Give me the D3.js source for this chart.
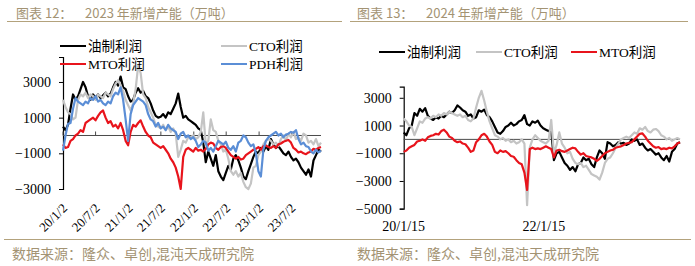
<!DOCTYPE html>
<html>
<head>
<meta charset="utf-8">
<script src="https://cdn.jsdelivr.net/npm/d3@7"></script>
<style>
  body { margin: 0; background: #fff; }
  svg { display: block; }
</style>
</head>
<body>
<svg id="chart"></svg>
<script>
// series names / categories
const seriesNames = ["油制利润", "CTO利润", "MTO利润", "PDH利润"];
const stepDays = 14;               // one value every two weeks
const start2023 = "2020-01-02";
const start2024 = "2020-01-15";
const xTicks2023 = ["2020-01-02", "2020-07-02", "2021-01-02", "2021-07-02",
                    "2022-01-02", "2022-07-02", "2023-01-02", "2023-07-02"];
const xTicks2024 = ["2020-01-15", "2022-01-15"];
const yTicks2023 = [3000, 1000, -1000, -3000];
const yTicks2024 = [3000, 1000, -1000, -3000, -5000];

// 2023 new capacity (万吨)
const oil2023 = [500, 300, 600, 1500, 2300, 2000, 2200, 2600, 3000, 2700, 2200, 2000, 2300,
  2100, 2300, 2100, 2250, 2400, 2200, 2350, 2700, 3000, 2800, 3300, 2700, 2600,
  2200, 1900, 2000, 2400, 2650, 2400, 2500, 2200, 2100, 1800, 1400, 1100, 1000,
  1050, 1200, 1000, 1300, 1200, 1500, 1800, 2350, 1600, 1000, 1100, 900, 800,
  700, 600, 400, 300, -400, -1500, -900, -1300, -1700, -1100, -2000, -2300, -2500,
  -2100, -1700, -1900, -1300, -1100, -1400, -1800, -2300, -2450, -2000, -1600, -1200, -900,
  -1000, -700, -900, -600, -800, -200, -500, -700, -600, -800, -1000, -1100, -900,
  -1200, -1400, -1300, -1500, -1800, -2000, -2200, -1900, -2300, -1400, -1100, -800, -900];
const cto2023 = [2000, 1600, 1300, 1200, 900, 1000, 2000, 2300, 2200, 2400, 2100, 2300, 2200,
  2000, 2300, 2200, 2100, 2400, 2300, 2200, 2600, 2900, 3100, 2800, 2500, 2000,
  1700, 1400, 1800, 2600, 3900, 3500, 2300, 2100, 1600, 1300, 1000, 600, 500,
  400, 600, 300, 500, 200, 400, 100, -1200, -800, -300, -400, -100, -100,
  0, -200, -100, 200, 1300, -500, -300, 900, 300, 200, -300, -500, -900,
  -800, -1300, -2000, -2200, -2000, -2300, -2100, -2600, -2900, -3000, -2700, -1800, -1700,
  -1100, -900, -500, -300, -200, -300, -500, -400, -600, -200, 0, -300, 100,
  -100, 200, -200, -100, -300, 100, 0, -400, -300, -500, -200, -600, -400];
const mto2023 = [-500, -700, -650, -300, -200, 0, 100, 300, 200, 700, 800, 900, 1000,
  850, 1100, 1300, 1400, 1000, 700, 800, 500, 600, 400, 700, 300, -300,
  -550, 200, 600, 500, 700, 850, 500, 200, 0, -100, -400, -500, -600,
  -700, -600, -800, -1000, -1300, -1500, -1800, -2300, -3000, -1200, -800, -700, -800,
  -900, -700, -850, -800, -900, -750, -500, -400, -450, -700, -800, -650, -600,
  -700, -900, -1100, -1200, -1300, -1200, -1350, -1300, -1100, -1000, -900, -800, -750,
  -650, -800, -600, -550, -650, -700, -600, -700, -500, -450, -350, -300, -250,
  -400, -700, -800, -950, -900, -1000, -1050, -950, -900, -750, -800, -700, -650];
const pdh2023 = [-850, 0, 650, 700, 1500, 2100, 1900, 1800, 1700, 1900, 1800, 2100, 2000,
  2200, 1900, 2000, 1800, 1700, 1900, 1800, 2200, 2400, 2300, 2700, 2000, 900,
  -300, 1200, 1700, 1900, 2100, 2000, 1900, 1700, 1200, 900, 800, 500, 700,
  400, 500, 300, 600, 400, 300, 200, -200, 100, 200, -100, 0, -200,
  -100, -300, -650, -500, -300, -400, -850, -700, -900, -600, -300, -400, -500,
  -350, -700, -800, -600, -900, -400, -300, 0, -100, -400, -600, -500, -1000,
  -2000, -2300, -800, -300, -100, 0, 100, 200, 0, 100, -100, 50, 100,
  200, 150, 300, -200, -500, -400, -600, -650, -900, -1000, -800, -950, -850];

// 2024 new capacity (万吨)
const oil2024 = [500, 300, 800, 1000, 1900, 1700, 2200, 2000, 2250, 1700, 1500, 1400, 1600,
  1500, 1700, 1600, 1800, 2000, 1900, 2100, 2450, 2300, 2100, 2000, 1700, 1800,
  1500, 1600, 2100, 2000, 2150, 1750, 1600, 1300, 900, 500, 400, 600, 900,
  1000, 1200, 1000, 1100, 1300, 1400, 1750, 1100, 1000, 1300, 1200, 1350, 1000,
  800, 700, 600, 650, -1500, -1000, -900, -1300, -1700, -1900, -2200, -2000, -2300,
  -1800, -1700, -1300, -1500, -1400, -1800, -2000, -1300, -800, -1000, -1400, -200, -300,
  -500, -400, -200, -300, -250, -400, -300, 0, -100, 0, -400, -300, -600,
  -800, -700, -900, -1100, -1000, -1300, -1500, -1200, -1600, -900, -700, -300, -200];
const cto2024 = [1500, 1300, 1000, 900, 300, 800, 1300, 1200, 1500, 1600, 1500, 1700, 1600,
  1800, 1700, 1900, 1800, 2000, 1900, 1800, 1700, 1800, 1600, 1700, 1400, 1300,
  1500, 2300, 3000, 3500, 2800, 2000, 1300, 800, 300, 200, 0, 100, -100,
  0, -200, -100, -300, -200, 0, -300, -4750, -600, 0, 300, 100, -100,
  -200, -300, -100, 1400, -1000, -400, 500, -300, -600, -1000, -900, -1400, -1700,
  -1800, -1700, -2000, -1900, -2200, -2500, -2600, -2700, -2900, -2400, -1700, -1400, -1300,
  -1000, -600, -300, 0, 100, 200, 100, 300, 500, 400, 800, 700, 900,
  600, 500, 700, 750, 600, 300, 200, 0, 100, -100, 0, 100, 0];
const mto2024 = [-900, -800, -600, -500, -400, -150, -100, 0, -100, 150, 250, 300, 400,
  350, 600, 700, 500, 200, 100, -100, -200, -150, -300, -350, -600, -900,
  -800, -200, 0, 300, 400, 200, -150, -400, -900, -1000, -800, -900, -850,
  -1000, -1200, -1250, -1500, -1700, -1800, -2400, -3650, -700, -600, -700, -650, -700,
  -600, -500, -600, -700, -1300, -800, -750, -850, -900, -800, -700, -600, -650,
  -900, -1100, -1000, -1200, -1250, -1300, -1400, -1550, -1400, -1200, -1000, -900, -800,
  -750, -600, -550, -500, -400, -300, -250, -200, 0, 200, 400, 430, 200,
  -100, -300, -500, -600, -550, -700, -650, -700, -600, -650, -500, -300, -200];

const width = 695;
const height = 266;
const colors = ["#000000", "#c4c4c4", "#e8141c", "#5b8ed6"];
const tan = "#b3a27c";
const titleColor = "#a39373";
const serif = "'Liberation Serif', 'Times New Roman', 'Noto Sans CJK SC', serif";
const cjk = "'Noto Sans CJK SC', sans-serif";

const parse = d3.timeParse("%Y-%m-%d");

const svg = d3.select("#chart")
    .attr("width", width)
    .attr("height", height)
    .attr("viewBox", [0, 0, width, height]);

svg.append("rect").attr("width", width).attr("height", height).attr("fill", "#fff");

function dateList(start, n) {
    const s = parse(start);
    return d3.range(n).map(i => d3.timeDay.offset(s, i * stepDays));
}

function drawPanel(p) {
    const dates = dateList(p.start, p.series[0].length);

    const x = d3.scaleTime()
        .domain([dates[0], dates[dates.length - 1]])
        .range([p.left, p.right]);
    const y = d3.scaleLinear()
        .domain(p.yDomain)
        .range([p.bottom, p.top]);

    const g = svg.append("g");

    // title + rule
    const title = g.append("text")
        .attr("y", 18)
        .attr("font-family", cjk)
        .attr("font-size", 13)
        .attr("fill", titleColor);
    title.append("tspan").attr("x", p.titleX).text(p.title[0]);
    title.append("tspan").attr("x", p.titleX + 69).text(p.title[1]);
    g.append("line")
        .attr("x1", p.ruleX[0]).attr("x2", p.ruleX[1])
        .attr("y1", 21.5).attr("y2", 21.5)
        .attr("stroke", tan).attr("stroke-width", 1.2);

    // y axis
    const yAxis = g.append("g")
        .attr("transform", `translate(${p.left},0)`)
        .call(d3.axisLeft(y).tickValues(p.yTicks).tickSize(4).tickPadding(8).tickFormat(d3.format("d")));
    yAxis.select(".domain").attr("stroke", "#000").attr("stroke-width", 1.2);
    yAxis.selectAll(".tick line").attr("stroke", "#000");
    yAxis.selectAll(".tick text")
        .attr("font-family", serif)
        .attr("font-size", 14)
        .attr("fill", "#000");

    // zero line
    g.append("line")
        .attr("x1", p.left).attr("x2", p.right)
        .attr("y1", y(0)).attr("y2", y(0))
        .attr("stroke", "#4a4a4a").attr("stroke-width", 1);

    const xt = p.xTicks.map(parse);
    if (p.rotated) {
        g.selectAll(".xtick")
            .data(xt)
            .enter()
            .append("line")
            .attr("x1", d => x(d)).attr("x2", d => x(d))
            .attr("y1", y(0)).attr("y2", y(0) - 4)
            .attr("stroke", "#4a4a4a");
        g.selectAll(".xlab")
            .data(xt)
            .enter()
            .append("text")
            .attr("transform", d => `translate(${x(d) + 5},209) rotate(-45)`)
            .attr("text-anchor", "end")
            .attr("font-family", serif)
            .attr("font-size", 13)
            .text(d3.timeFormat("%y/%-m/%-d"));
    } else {
        g.selectAll(".xlab")
            .data(xt)
            .enter()
            .append("text")
            .attr("x", d => x(d))
            .attr("y", 231)
            .attr("text-anchor", "middle")
            .attr("font-family", serif)
            .attr("font-size", 14)
            .text(d3.timeFormat("%y/%-m/%-d"));
    }

    const line = d3.line()
        .x((d, i) => x(dates[i]))
        .y(d => y(d));

    p.series.forEach((s, i) => {
        g.append("path")
            .datum(s)
            .attr("fill", "none")
            .attr("stroke", colors[i])
            .attr("stroke-width", 2.2)
            .attr("stroke-linejoin", "round")
            .attr("d", line);
    });

    // legend
    p.legend.forEach((l, i) => {
        g.append("line")
            .attr("x1", l[0]).attr("x2", l[0] + 26)
            .attr("y1", l[1]).attr("y2", l[1])
            .attr("stroke", colors[i]).attr("stroke-width", 2);
        g.append("text")
            .attr("x", l[0] + 28)
            .attr("y", l[1])
            .attr("dy", "0.35em")
            .attr("font-family", serif)
            .attr("font-size", 13.5)
            .text(seriesNames[i]);
    });

    // source note
    g.append("text")
        .attr("x", p.sourceX)
        .attr("y", 259)
        .attr("font-family", cjk)
        .attr("font-size", 14)
        .attr("fill", titleColor)
        .text("数据来源：隆众、卓创,混沌天成研究院");
}

drawPanel({
    start: start2023,
    series: [oil2023, cto2023, mto2023, pdh2023],
    left: 63, right: 321, top: 57, bottom: 189,
    yDomain: [-3000, 4400],
    yTicks: yTicks2023,
    xTicks: xTicks2023,
    rotated: true,
    title: ["图表 12：", "2023 年新增产能（万吨）"],
    titleX: 16,
    sourceX: 12,
    ruleX: [7, 342],
    legend: [[60, 46], [221, 46], [60, 64], [221, 64]]
});

drawPanel({
    start: start2024,
    series: [oil2024, cto2024, mto2024],
    left: 403.7, right: 680, top: 86.7, bottom: 208.7,
    yDomain: [-5000, 3800],
    yTicks: yTicks2024,
    xTicks: xTicks2024,
    rotated: false,
    title: ["图表 13：", "2024 年新增产能（万吨）"],
    titleX: 357,
    sourceX: 357,
    ruleX: [350, 688],
    legend: [[379, 52], [476, 52], [571, 52]]
});

// bottom rule
svg.append("line")
    .attr("x1", 4).attr("x2", 691)
    .attr("y1", 239.5).attr("y2", 239.5)
    .attr("stroke", tan).attr("stroke-width", 1.2);
</script>
</body>
</html>
